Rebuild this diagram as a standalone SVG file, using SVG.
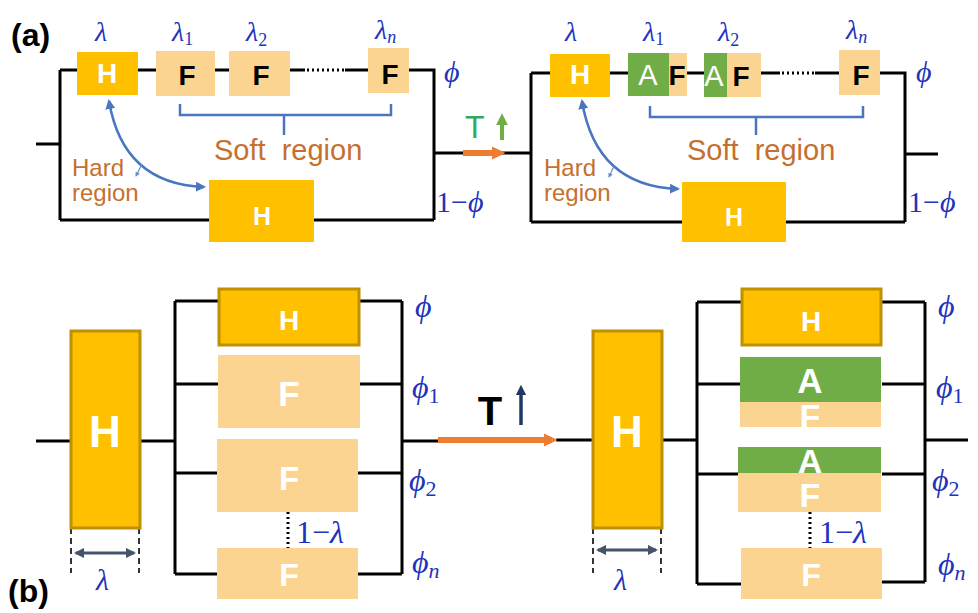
<svg xmlns="http://www.w3.org/2000/svg" width="978" height="613" viewBox="0 0 978 613">
<defs>
<style>
.w{stroke:#000;stroke-width:3;fill:none}
.dot{stroke:#000;stroke-width:3;stroke-dasharray:2 3;fill:none}
.hb{fill:#FFC000}
.hbs{fill:#FFC000;stroke:#BF9000;stroke-width:3}
.fb{fill:#FBD491}
.ab{fill:#70AD47}
.tw{font-family:"Liberation Sans",Arial,sans-serif;fill:#fff;font-weight:bold;text-anchor:middle}
.tn{font-family:"Liberation Sans",Arial,sans-serif;fill:#fff;font-weight:normal;text-anchor:middle}
.tk{font-family:"Liberation Sans",Arial,sans-serif;fill:#000;font-weight:bold;text-anchor:middle}
.m{font-family:"Liberation Serif","DejaVu Serif",serif;font-style:italic;fill:#2233BB}
.up{font-style:normal}
.br{font-family:"Liberation Sans",Arial,sans-serif;fill:#C5702E}
.lab{font-family:"Liberation Sans",Arial,sans-serif;font-weight:bold;fill:#000}
.brk{stroke:#4A76C0;stroke-width:2.5;fill:none}
.cur{stroke:#4A76C0;stroke-width:2.5;fill:none;marker-start:url(#bh);marker-end:url(#bh)}
.thin{stroke:#6A8FD0;stroke-width:1.2;fill:none;marker-end:url(#bs)}
.org{stroke:#ED7D31;stroke-width:6;fill:none;marker-end:url(#oh)}
.dim{stroke:#44546A;stroke-width:3;fill:none;marker-start:url(#gh);marker-end:url(#gh)}
.dash{stroke:#333;stroke-width:2;stroke-dasharray:6 4;fill:none}
</style>
<marker id="bh" viewBox="0 0 10 10" refX="8" refY="5" markerWidth="4" markerHeight="4" orient="auto-start-reverse" markerUnits="strokeWidth"><path d="M0,0 L10,5 L0,10 z" fill="#4A76C0"/></marker>
<marker id="bs" viewBox="0 0 10 10" refX="8" refY="5" markerWidth="4" markerHeight="4" orient="auto" markerUnits="strokeWidth"><path d="M0,0 L10,5 L0,10 z" fill="#6A8FD0"/></marker>
<marker id="oh" viewBox="0 0 10 10" refX="6" refY="5" markerWidth="2.2" markerHeight="2.2" orient="auto" markerUnits="strokeWidth"><path d="M0,0 L10,5 L0,10 z" fill="#ED7D31"/></marker>
<marker id="gh" viewBox="0 0 10 10" refX="8" refY="5" markerWidth="3.5" markerHeight="3.5" orient="auto-start-reverse" markerUnits="strokeWidth"><path d="M0,0 L10,5 L0,10 z" fill="#44546A"/></marker>
<marker id="gr" viewBox="0 0 10 10" refX="6" refY="5" markerWidth="3" markerHeight="3" orient="auto" markerUnits="strokeWidth"><path d="M0,0 L10,5 L0,10 z" fill="#70AD47"/></marker>
<marker id="nv" viewBox="0 0 10 10" refX="6" refY="5" markerWidth="3" markerHeight="3" orient="auto" markerUnits="strokeWidth"><path d="M0,0 L10,5 L0,10 z" fill="#1F3864"/></marker>
</defs>
<rect width="978" height="613" fill="#fff"/>

<g id="connectors">
<path class="w" d="M36,144 H60 M60,70 V220 M60,70 H77 M138,70 H156 M215,70 H229 M290,70 H305 M345,70 H368 M409,70 H434 V220 M60,220 H209 M314,220 H434 M434,153 H531"/>
<path class="dot" d="M307,70 H345"/>
<path class="w" d="M531,73 V222 M531,73 H550 M610,73 H628 M687,73 H704 M761,73 H780 M815,73 H839 M880,73 H905 V222 M531,222 H682 M786,222 H905 M905,154 H938"/>
<path class="dot" d="M782,73 H815"/>
<path class="w" d="M36,441 H71 M140,441 H175 M175,301 V574 M402,301 V574 M402,441 H440 M175,301 H218 M360,301 H402 M175,384 H218 M360,384 H402 M175,473 H217 M358,473 H402 M175,574 H217 M358,574 H402"/>
<path class="dot" d="M288,512 V548"/>
<path class="w" d="M556,440 H593 M662,440 H697 M697,302 V584 M925,302 V582 M925,440 H968 M697,302 H741 M882,302 H925 M697,384 H741 M882,384 H925 M697,474 H738 M882,474 H925 M697,584 H741 M882,582 H925"/>
<path class="dot" d="M810,512 V548"/>
<path class="org" d="M463,153 H500"/>
<path class="org" d="M438,440 H552"/>
<path d="M502,140 V118" stroke="#70AD47" stroke-width="4" fill="none" marker-end="url(#gr)"/>
<path d="M521,425 V389" stroke="#1F3864" stroke-width="3.5" fill="none" marker-end="url(#nv)"/>
<path class="brk" d="M180,104 V115 H391 V104 M284,115 V135"/>
<path class="brk" d="M650,106 V117 H863 V106 M756,117 V135"/>
<path class="cur" d="M109,101 Q123,184 204,187"/>
<path class="cur" d="M582,101 Q596,186 678,189"/>
<path class="thin" d="M142,164 L136,176"/>
<path class="thin" d="M614,166 L609,177"/>
<path class="dash" d="M71,528 V573 M139,528 V573 M593,528 V573 M661,528 V573"/>
<path class="dim" d="M76,553 H134"/>
<path class="dim" d="M598,550 H656"/>
</g>

<g id="node-a-left-H"><rect class="hb" x="77" y="52" width="61" height="43"/><text class="tw" x="107" y="83" font-size="28">H</text></g>
<g id="node-a-left-F1"><rect class="fb" x="156" y="51" width="59" height="45"/><text class="tk" x="187" y="85" font-size="28">F</text></g>
<g id="node-a-left-F2"><rect class="fb" x="229" y="51" width="61" height="45"/><text class="tk" x="261" y="85" font-size="28">F</text></g>
<g id="node-a-left-Fn"><rect class="fb" x="368" y="48" width="41" height="45"/><text class="tk" x="390" y="84" font-size="28">F</text></g>
<g id="node-a-left-Hb"><rect class="hb" x="209" y="180" width="105" height="62"/><text class="tw" x="262" y="225" font-size="25">H</text></g>

<g id="node-a-right-H"><rect class="hb" x="550" y="54" width="60" height="43"/><text class="tw" x="580" y="84" font-size="28">H</text></g>
<g id="node-a-right-AF1"><rect class="fb" x="628" y="53" width="59" height="43"/><rect class="ab" x="628" y="53" width="41" height="43"/><text class="tn" x="648" y="85" font-size="29">A</text><text class="tk" x="677" y="85" font-size="28">F</text></g>
<g id="node-a-right-AF2"><rect class="fb" x="704" y="53" width="57" height="44"/><rect class="ab" x="704" y="53" width="23" height="44"/><text class="tn" x="714" y="86" font-size="29">A</text><text class="tk" x="741" y="86" font-size="28">F</text></g>
<g id="node-a-right-Fn"><rect class="fb" x="839" y="50" width="41" height="45"/><text class="tk" x="861" y="85" font-size="28">F</text></g>
<g id="node-a-right-Hb"><rect class="hb" x="682" y="182" width="104" height="60"/><text class="tw" x="734" y="226" font-size="25">H</text></g>

<g id="node-b-left-Hbig"><rect class="hbs" x="71" y="331" width="69" height="197" stroke-width="2"/><text class="tw" x="105" y="447" font-size="44">H</text></g>
<g id="node-b-left-H"><rect class="hbs" x="219" y="289" width="140" height="56"/><text class="tw" x="289" y="330" font-size="28">H</text></g>
<g id="node-b-left-F1"><rect class="fb" x="218" y="355" width="142" height="73"/><text class="tw" x="289" y="406" font-size="35">F</text></g>
<g id="node-b-left-F2"><rect class="fb" x="217" y="439" width="141" height="73"/><text class="tw" x="289" y="490" font-size="33">F</text></g>
<g id="node-b-left-Fn"><rect class="fb" x="217" y="548" width="141" height="51"/><text class="tw" x="289" y="586" font-size="32">F</text></g>

<g id="node-b-right-Hbig"><rect class="hbs" x="593" y="331" width="69" height="197" stroke-width="2"/><text class="tw" x="627" y="447" font-size="44">H</text></g>
<g id="node-b-right-H"><rect class="hbs" x="742" y="289" width="139" height="56"/><text class="tw" x="811" y="331" font-size="28">H</text></g>
<g id="node-b-right-AF1"><rect class="fb" x="740" y="402" width="141" height="25"/><text class="tw" x="810" y="428" font-size="34">F</text><rect class="ab" x="740" y="357" width="141" height="45"/><text class="tw" x="810" y="393" font-size="35">A</text></g>
<g id="node-b-right-AF2"><rect class="fb" x="738" y="473" width="143" height="39"/><text class="tw" x="810" y="507" font-size="34">F</text><rect class="ab" x="738" y="447" width="143" height="26"/><text class="tw" x="810" y="473" font-size="34">A</text></g>
<g id="node-b-right-Fn"><rect class="fb" x="741" y="548" width="141" height="51"/><text class="tw" x="811" y="586" font-size="32">F</text></g>

<g id="labels">
<text class="lab" x="11" y="46" font-size="32">(a)</text>
<text class="lab" x="8" y="602" font-size="32">(b)</text>
<text class="m" x="95" y="41" font-size="28">λ</text>
<text class="m" x="172" y="41" font-size="28">λ<tspan class="up" font-size="18" dy="4">1</tspan></text>
<text class="m" x="246" y="41" font-size="28">λ<tspan class="up" font-size="18" dy="5">2</tspan></text>
<text class="m" x="375" y="39" font-size="28">λ<tspan font-size="18" dy="4">n</tspan></text>
<text class="m" x="444" y="82" font-size="30">ϕ</text>
<text class="m" x="436" y="212" font-size="30"><tspan class="up">1−</tspan>ϕ</text>
<text class="m" x="565" y="41" font-size="28">λ</text>
<text class="m" x="643" y="41" font-size="28">λ<tspan class="up" font-size="18" dy="4">1</tspan></text>
<text class="m" x="718" y="41" font-size="28">λ<tspan class="up" font-size="18" dy="5">2</tspan></text>
<text class="m" x="846" y="39" font-size="28">λ<tspan font-size="18" dy="4">n</tspan></text>
<text class="m" x="916" y="82" font-size="30">ϕ</text>
<text class="m" x="908" y="212" font-size="30"><tspan class="up">1−</tspan>ϕ</text>
<text class="br" x="214" y="160" font-size="29">Soft&#160; region</text>
<text class="br" x="687" y="160" font-size="29">Soft&#160; region</text>
<text class="br" x="72" y="176" font-size="24">Hard</text>
<text class="br" x="72" y="201" font-size="24">region</text>
<text class="br" x="544" y="176" font-size="24">Hard</text>
<text class="br" x="544" y="201" font-size="24">region</text>
<text x="465" y="138" font-family="Liberation Sans,Arial,sans-serif" font-size="32" fill="#2EAA5E">T</text>
<text x="490" y="425" font-family="Liberation Sans,Arial,sans-serif" font-weight="bold" font-size="40" fill="#000" text-anchor="middle">T</text>
<text class="m" x="415" y="317" font-size="32">ϕ</text>
<text class="m" x="412" y="398" font-size="32">ϕ<tspan class="up" font-size="22" dy="5">1</tspan></text>
<text class="m" x="409" y="491" font-size="32">ϕ<tspan class="up" font-size="22" dy="5">2</tspan></text>
<text class="m" x="412" y="573" font-size="32">ϕ<tspan font-size="22" dy="5">n</tspan></text>
<text class="m" x="938" y="317" font-size="32">ϕ</text>
<text class="m" x="936" y="398" font-size="32">ϕ<tspan class="up" font-size="22" dy="5">1</tspan></text>
<text class="m" x="932" y="491" font-size="32">ϕ<tspan class="up" font-size="22" dy="5">2</tspan></text>
<text class="m" x="938" y="575" font-size="32">ϕ<tspan font-size="22" dy="5">n</tspan></text>
<text class="m" x="296" y="543" font-size="32"><tspan class="up">1−</tspan>λ</text>
<text class="m" x="819" y="543" font-size="32"><tspan class="up">1−</tspan>λ</text>
<text class="m" x="96" y="590" font-size="30">λ</text>
<text class="m" x="614" y="590" font-size="30">λ</text>
</g>
</svg>
